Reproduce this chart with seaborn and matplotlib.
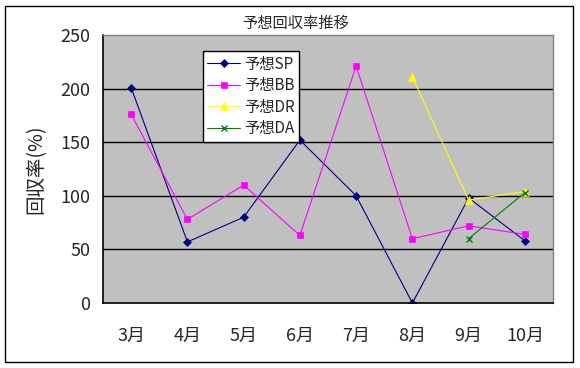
import seaborn as sns
import matplotlib.pyplot as plt
import numpy as np
from matplotlib.patches import Rectangle

# data
months = ["3月", "4月", "5月", "6月", "7月", "8月", "9月", "10月"]
sp = [201, 57, 80, 152, 100, 0, 98, 58]
bb = [176, 78, 110, 63, 221, 60, 72, 64]
dr = [np.nan, np.nan, np.nan, np.nan, np.nan, 211, 96, 104]
da = [np.nan, np.nan, np.nan, np.nan, np.nan, np.nan, 60, 103]
series_names = ["予想SP", "予想BB", "予想DR", "予想DA"]
y_ticks = [0, 50, 100, 150, 200, 250]

sns.set_style("white")
plt.rcParams['font.family'] = ['Noto Sans CJK JP', 'DejaVu Sans']

fig = plt.figure(figsize=(5.8, 3.68), dpi=100)
ax = fig.add_axes([103/580, 1-303/368, 450/580, 268/368])
ax.set_facecolor("#c0c0c0")

# outer chart border
fig.patches.append(Rectangle((5/580, 6/368), 568/580, 356/368, transform=fig.transFigure,
                             fill=False, edgecolor="black", linewidth=1))

styles = [("#000080", "D", 4), ("#ff00ff", "s", 5), ("#ffff00", "^", 6), ("#008000", "x", 5)]
for vals, name, (c, m, ms) in zip([sp, bb, dr, da], series_names, styles):
    sns.lineplot(x=months, y=vals, ax=ax, color=c, marker=m, markersize=ms, linewidth=0.8,
                 markeredgecolor=c, markeredgewidth=1 if m == "x" else 0.5, label=name, sort=False)

ax.set_xlim(-0.5, len(months) - 0.5)
ax.set_ylim(0, 250)
ax.set_yticks(y_ticks)
for y in y_ticks[1:-1]:
    ax.axhline(y, color="black", linewidth=1, zorder=0.5)

ax.tick_params(axis="y", direction="out", length=4, width=1, color="black", labelsize=13, pad=5)
ax.tick_params(axis="x", which="major", length=0, labelsize=13, pad=17)
ax.set_xticks(np.arange(0.5, len(months) - 0.5), minor=True)
ax.tick_params(axis="x", which="minor", direction="in", length=5, width=1, color="black")

for s in ["left", "bottom"]:
    ax.spines[s].set_color("black")
    ax.spines[s].set_linewidth(1.2)
for s in ["top", "right"]:
    ax.spines[s].set_color("#808080")
    ax.spines[s].set_linewidth(1)

ax.set_xlabel("")
ax.set_ylabel("回収率(%)", fontsize=14, labelpad=10)
fig.text(0.51, 1-23/368, "予想回収率推移", ha="center", va="center", fontsize=11)

leg = ax.legend(loc="upper left", bbox_to_anchor=(0.222, 0.94), fontsize=11, frameon=True,
                fancybox=False, framealpha=1, edgecolor="black", handlelength=2.1,
                borderpad=0.3, labelspacing=0.3, handletextpad=0.3, borderaxespad=0)
leg.get_frame().set_linewidth(1)

fig.savefig("out.png", dpi=100)
